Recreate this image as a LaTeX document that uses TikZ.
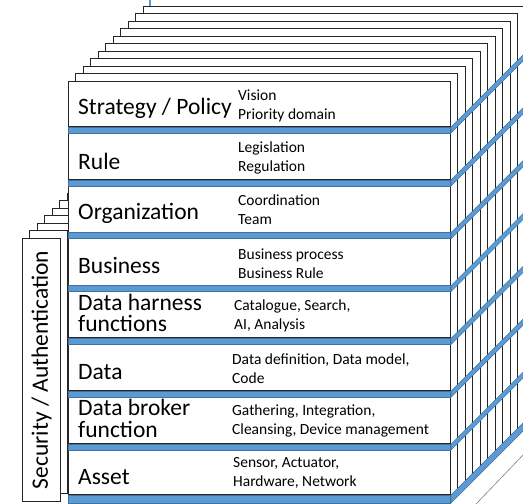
\documentclass[tikz,border=0pt]{standalone}
\usepackage{fontspec}
\setmainfont{Carlito}
\usepackage{tikz}

\definecolor{bandblue}{HTML}{5B9BD5}
\definecolor{bandedge}{HTML}{41719C}
\definecolor{edgegray}{HTML}{262626}

\begin{document}
\begin{tikzpicture}[
            x=1pt, y=-1pt,
            sheet/.style={draw=edgegray, fill=white, line width=1pt},
            cell/.style={sheet, anchor=north west, minimum width=382pt, inner sep=0pt},
            band/.style={fill=bandblue, draw=bandedge, line width=0.5pt},
            big/.style={font=\fontsize{23.5}{21.5}\selectfont, anchor=west, align=left, inner sep=0pt},
            desc/.style={font=\fontsize{15.5}{19}\selectfont, anchor=west, align=left, inner sep=0pt}
        ]
        \useasboundingbox (0,0) rectangle (523,504);
        % axis behind the stack
        \draw[bandblue, line width=1.5pt] (150,0) -- (150,504);
        % side stack
        \foreach \k in {6,...,1}
            \draw[sheet] ({22+7.5*\k},{238-7.5*\k}) rectangle ({60+7.5*\k},{501-7.5*\k});
        \node[sheet, anchor=north west, minimum width=38pt, minimum height=263pt, inner sep=0pt] (sec) at (22,238) {};
        \node[big, anchor=center, rotate=90] (secT) at (sec.center) {Security / Authentication};
        % sheets behind the front
        \foreach \k in {10,...,1}
            \draw[sheet] ({68+7.5*\k},{81-7.5*\k}) rectangle ({450+7.5*\k},{502-7.5*\k});
        % front layers
        \node[cell, minimum height=45pt] (strat) at (68,81) {};
        \node[cell, minimum height=46.9pt] (rule) at (68,132) {};
        \node[cell, minimum height=46.8pt] (org) at (68,184.9) {};
        \node[cell, minimum height=46.9pt] (biz) at (68,237.7) {};
        \node[cell, minimum height=46.8pt] (harness) at (68,290.6) {};
        \node[cell, minimum height=46.9pt] (data) at (68,343.4) {};
        \node[cell, minimum height=46.8pt] (broker) at (68,396.3) {};
        \node[cell, minimum height=44.9pt] (asset) at (68,449.1) {};
        % blue bands, front and side
        \foreach \c in {strat, rule, org, biz, harness, data, broker} {
            \draw[band] (\c.south west) rectangle ++(382,6);
            \draw[band] (\c.south east) -- ++(78,-78) -- ++(0,6) -- ++(-78,78) -- cycle;
        }
        \draw[band] (asset.south west) rectangle ++(382,8);
        \draw[band] (asset.south east) -- ++(78,-78) -- ++(0,8) -- ++(-78,78) -- cycle;
        \coordinate (floorA) at (476,504);
        \coordinate (floorB) at (524,454);
        \draw[gray, line width=0.6pt] (floorA) -- (floorB);
        % labels
        \node[big] (stratT) at (78,108) {Strategy / Policy};
        \node[big] (ruleT) at (78,161) {Rule};
        \node[big] (orgT) at (78,213) {Organization};
        \node[big] (bizT) at (78,265) {Business};
        \node[big] (harnessT) at (78,313) {Data harness\\functions};
        \node[big] (dataT) at (78,372) {Data};
        \node[big] (brokerT) at (78,418.5) {Data broker\\function};
        \node[big] (assetT) at (78,477) {Asset};
        \node[desc] (stratD) at (238,105.5) {Vision\\Priority domain};
        \node[desc] (ruleD) at (238,157.5) {Legislation\\Regulation};
        \node[desc] (orgD) at (238,209.5) {Coordination\\Team};
        \node[desc] (bizD) at (238,263.5) {Business process\\Business Rule};
        \node[desc] (harnessD) at (234,316) {Catalogue, Search,\\AI, Analysis};
        \node[desc] (dataD) at (232,368.5) {Data definition, Data model,\\Code};
        \node[desc] (brokerD) at (232,420.5) {Gathering, Integration,\\Cleansing, Device management};
        \node[desc] (assetD) at (233,472.5) {Sensor, Actuator,\\Hardware, Network};
        \end{tikzpicture}
\end{document}
